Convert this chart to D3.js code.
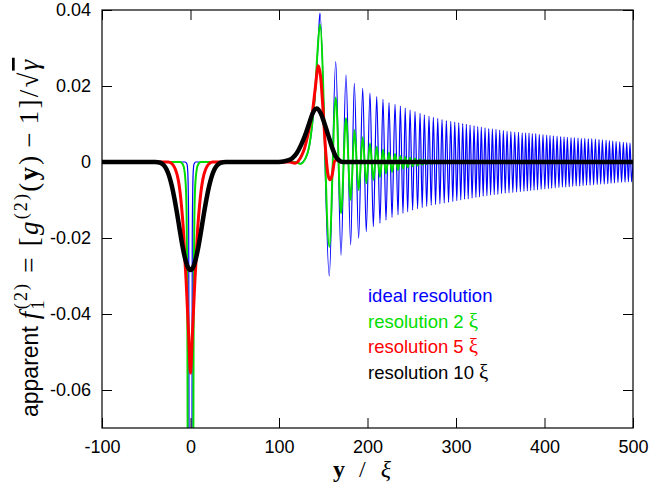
<!DOCTYPE html>
<html>
<head>
<meta charset="utf-8">
<script src="https://cdn.jsdelivr.net/npm/d3@7"></script>
<style>
  body { margin: 0; background: #fff; }
  svg { display: block; }
  .tick text { font-family: "Liberation Sans", Arial, sans-serif; font-size: 18px; fill: #000; }
  .tick line { stroke: #000; stroke-width: 1; }
  .legend { font-family: "Liberation Sans", Arial, sans-serif; font-size: 18.5px; }
</style>
</head>
<body>
<svg id="chart" width="650" height="494"></svg>
<script>
// axis ticks
var xTicks = [-100, 0, 100, 200, 300, 400, 500];
var yTicks = [-0.06, -0.04, -0.02, 0, 0.02, 0.04];

// ideal resolution: flat part and dip at 0, rise into main peak
var blueX = [-100, -6, -4, -3, -2.5, -2, -1.7, -1.2, 0, 1.2, 1.7, 2, 2.5, 3, 4, 6,
  120, 124, 128, 132, 135, 138, 141, 143, 145];
var blueY = [0, 0, -0.0005, -0.003, -0.008, -0.02, -0.07, -0.13, -0.2, -0.13, -0.07, -0.02, -0.008, -0.003, -0.0005, 0,
  0, -0.0004, 0.0003, 0.002, 0.005, 0.0105, 0.018, 0.026, 0.035];
// ideal resolution: fringe maxima and minima
var bluePeakX = [146.3, 164.1, 175.7, 185.1, 194.6, 202.8, 210.4, 217.5, 224.3, 231.1, 237.1, 242.6,
  248.1, 253.7, 259.4, 264.2, 269.5, 274.4, 279.4, 284.2, 289.1, 294.1, 298.6, 303.1, 307.6, 311.7,
  315.9, 320.4, 324.6, 328.6, 332.8, 337.0, 341.1, 345.2, 349.4, 353.5, 357.7, 362.0, 366.4, 370.6,
  374.8, 378.7, 382.5, 386.2, 390.1, 394.1, 398.3, 402.5, 406.2, 410.0, 414.2, 418.3, 422.1, 425.8,
  430.0, 433.7, 437.9, 441.6, 445.5, 449.5, 453.4, 457.5, 461.6, 465.4, 469.6, 473.3, 477.1, 480.9,
  485.0, 489.1, 492.9, 496.6];
var bluePeakY = [0.0392, 0.0264, 0.0229, 0.0207, 0.0194, 0.0181, 0.0172, 0.0165, 0.0156, 0.0152, 0.0147, 0.0142,
  0.0137, 0.0133, 0.0128, 0.0124, 0.0121, 0.0118, 0.0115, 0.0112, 0.0109, 0.0107, 0.0105, 0.0103, 0.0101, 0.0099,
  0.0097, 0.0095, 0.0093, 0.0092, 0.0090, 0.0088, 0.0087, 0.0086, 0.0084, 0.0083, 0.0081, 0.0080, 0.0079, 0.0078,
  0.0077, 0.0077, 0.0076, 0.0075, 0.0075, 0.0073, 0.0072, 0.0071, 0.0070, 0.0069, 0.0068, 0.0067, 0.0066, 0.0065,
  0.0064, 0.0064, 0.0063, 0.0062, 0.0062, 0.0061, 0.0061, 0.0060, 0.0059, 0.0058, 0.0057, 0.0056, 0.0055, 0.0054,
  0.0053, 0.0052, 0.0051, 0.0050];
var blueTroughX = [156.8, 170.1, 181.0, 190.0, 198.6, 206.6, 214.1, 220.9, 227.7, 234.5, 240.1, 245.4,
  251.0, 256.6, 261.8, 266.9, 272.0, 276.9, 281.8, 286.7, 291.6, 296.4, 300.9, 305.4, 309.7, 313.8,
  318.2, 322.5, 326.6, 330.7, 334.9, 339.1, 343.2, 347.3, 351.5, 355.6, 359.9, 364.2, 368.5, 372.7,
  376.8, 380.6, 384.4, 388.2, 392.1, 396.2, 400.4, 404.4, 408.1, 412.1, 416.3, 420.2, 424.0, 427.9,
  431.9, 435.8, 439.8, 443.6, 447.5, 451.5, 455.5, 459.6, 463.5, 467.5, 471.5, 475.2, 479.0, 483.0,
  487.1, 491.0, 494.8, 498.4, 500];
var blueTroughY = [-0.0300, -0.0245, -0.0218, -0.0201, -0.0183, -0.0170, -0.0161, -0.0153, -0.0146, -0.0139, -0.0135, -0.0131,
  -0.0127, -0.0123, -0.0120, -0.0117, -0.0114, -0.0112, -0.0110, -0.0108, -0.0106, -0.0104, -0.0102, -0.0100, -0.0098, -0.0097,
  -0.0095, -0.0093, -0.0092, -0.0090, -0.0089, -0.0087, -0.0086, -0.0085, -0.0083, -0.0082, -0.0081, -0.0080, -0.0079, -0.0078,
  -0.0077, -0.0076, -0.0075, -0.0074, -0.0073, -0.0072, -0.0071, -0.0070, -0.0069, -0.0068, -0.0067, -0.0066, -0.0066, -0.0065,
  -0.0064, -0.0063, -0.0063, -0.0062, -0.0061, -0.0061, -0.0060, -0.0059, -0.0058, -0.0058, -0.0057, -0.0056, -0.0055, -0.0054,
  -0.0053, -0.0053, -0.0052, -0.0052, 0];

// resolution 2 xi
var greenX = [-100, -12, -9, -7, -6, -5, -4.4, -3.9, -3.5, -3.2, -2, 0, 2, 3.2, 3.5, 3.9, 4.4, 5, 6, 7, 9, 12,
  118, 124, 130, 134, 137, 140.7, 143.5, 146.3,
  156.8, 164.1, 170.1, 175.7, 181.0, 185.3, 190.0, 194.6, 198.6, 202.8, 206.6, 210.4, 214.1, 217.5,
  220.9, 224.3, 227.7, 231.1, 234.5, 237.1, 240.1, 242.6, 245.4, 248.1, 251.0, 253.7, 256.6, 259.4,
  261.8, 264.2, 266.9, 269.5, 272.0, 274.4, 276.9, 280, 500];
var greenY = [0, 0, -0.0005, -0.002, -0.004, -0.008, -0.014, -0.026, -0.045, -0.075, -0.12, -0.15, -0.12, -0.075, -0.045, -0.026, -0.014, -0.008, -0.004, -0.002, -0.0005, 0,
  0, -0.0005, 0.001, 0.004, 0.009, 0.018, 0.029, 0.0362,
  -0.0223, 0.0170, -0.0135, 0.0115, -0.0100, 0.0084, -0.0074, 0.0065, -0.0056, 0.0049, -0.0047, 0.0040, -0.0039, 0.0033,
  -0.0030, 0.0025, -0.0026, 0.0021, -0.0021, 0.0016, -0.0017, 0.0013, -0.0014, 0.0011, -0.0011, 0.0009, -0.0009, 0.0007,
  -0.0007, 0.0005, -0.0005, 0.0004, -0.0004, 0.0003, -0.0003, 0, 0];

// resolution 5 xi
var redX = [-100, -25, -20, -17, -14, -12, -10, -8, -6, -5, -4, -3, -2, -1, 0, 1, 2, 3, 4, 5, 6, 8, 10, 12, 14, 17, 20, 25,
  112, 118, 124, 128, 132, 135, 138, 141, 144.4, 147, 150, 153, 155.5, 157.6, 160, 163, 166, 170, 500];
var redY = [0, 0, -0.0007, -0.002, -0.0045, -0.0075, -0.012, -0.018, -0.027, -0.031, -0.036, -0.041, -0.046, -0.052, -0.0555,
  -0.052, -0.046, -0.041, -0.036, -0.031, -0.027, -0.018, -0.012, -0.0075, -0.0045, -0.002, -0.0007, 0,
  0, -0.0003, 0.001, 0.003, 0.0065, 0.0098, 0.0135, 0.0195, 0.0253, 0.0225, 0.013, 0.002, -0.0035, -0.0047, -0.0035, 0.0003, 0.0006, 0, 0];

// resolution 10 xi
var blackX = [-100, -40, -34, -30, -27, -24, -21, -18, -15, -12, -9, -6, -3, 0, 3, 6, 9, 12, 15, 18, 21, 24, 27, 30, 34, 40,
  100, 110, 115, 120, 125, 129.5, 134, 138, 142.5, 147, 151, 155.7, 160, 164, 168, 172, 500];
var blackY = [0, 0, -0.0002, -0.0009, -0.002, -0.0038, -0.0064, -0.0098, -0.0138, -0.0181, -0.0222, -0.0255, -0.0277, -0.0284,
  -0.0277, -0.0255, -0.0222, -0.0181, -0.0138, -0.0098, -0.0064, -0.0038, -0.002, -0.0009, -0.0002, 0,
  0, 0.0004, 0.001, 0.0023, 0.0045, 0.007, 0.0101, 0.0128, 0.0141, 0.0129, 0.0104, 0.007, 0.0038, 0.0015, 0.0004, 0, 0];

var legendLabels = ["ideal resolution", "resolution 2 ", "resolution 5 ", "resolution 10 "];
var colors = ["#0000ff", "#00dd00", "#ff0000", "#000000"];
var widths = [1.2, 2, 3, 4.5];

(function() {
    var svg = d3.select('#chart');
    var plotL = 102, plotR = 633, plotT = 10, plotB = 428;

    var x = d3.scaleLinear().domain([-100, 500]).range([plotL, plotR]);
    var y = d3.scaleLinear().domain([-0.07, 0.04]).range([plotB, plotT]);

    var zip = function(xs, ys) {
        return xs.map(function(v, i) { return [v, ys[i]]; });
    };

    var bluePts = zip(blueX, blueY)
        .concat(zip(bluePeakX, bluePeakY))
        .concat(zip(blueTroughX, blueTroughY))
        .sort(function(a, b) { return a[0] - b[0]; });

    var series = [bluePts, zip(greenX, greenY), zip(redX, redY), zip(blackX, blackY)];

    svg.append('clipPath').attr('id', 'plot-clip')
      .append('rect')
        .attr('x', plotL).attr('y', plotT)
        .attr('width', plotR - plotL).attr('height', plotB - plotT);

    var line = d3.line()
        .x(function(d) { return x(d[0]); })
        .y(function(d) { return y(d[1]); })
        .curve(d3.curveMonotoneX);

    svg.append('g').attr('clip-path', 'url(#plot-clip)')
      .selectAll('path')
        .data(series)
      .enter().append('path')
        .attr('d', line)
        .attr('fill', 'none')
        .attr('stroke', function(d, i) { return colors[i]; })
        .attr('stroke-width', function(d, i) { return widths[i]; })
        .attr('stroke-linejoin', 'round');

    var fmtY = function(d) { return d === 0 ? '0' : d.toFixed(2); };
    var fmtX = function(d) { return String(d); };

    svg.append('g').attr('transform', 'translate(0,' + plotB + ')')
        .call(d3.axisBottom(x).tickValues(xTicks).tickSize(-10).tickPadding(12).tickFormat(fmtX));
    svg.append('g').attr('transform', 'translate(0,' + plotT + ')')
        .call(d3.axisTop(x).tickValues(xTicks).tickSize(-10).tickFormat(''));
    svg.append('g').attr('transform', 'translate(' + plotL + ',0)')
        .call(d3.axisLeft(y).tickValues(yTicks).tickSize(-10).tickPadding(11).tickFormat(fmtY));
    svg.append('g').attr('transform', 'translate(' + plotR + ',0)')
        .call(d3.axisRight(y).tickValues(yTicks).tickSize(-10).tickFormat(''));
    svg.selectAll('.domain').remove();

    svg.append('rect')
        .attr('x', plotL).attr('y', plotT)
        .attr('width', plotR - plotL).attr('height', plotB - plotT)
        .attr('fill', 'none').attr('stroke', '#000').attr('stroke-width', 1.2);

    // legend
    var legend = svg.append('g').attr('class', 'legend');
    legend.selectAll('text')
        .data(legendLabels)
      .enter().append('text')
        .attr('x', 368)
        .attr('y', function(d, i) { return 302 + i * 25.7; })
        .attr('fill', function(d, i) { return colors[i]; })
        .each(function(d, i) {
            var t = d3.select(this);
            t.append('tspan').text(d);
            if (i > 0) {
                t.append('tspan').attr('font-family', '"Liberation Serif", serif').attr('font-size', 21).text('ξ');
            }
        });

    // x axis title
    var xt = svg.append('text')
        .attr('x', 333).attr('y', 477)
        .attr('font-family', '"Liberation Serif", serif')
        .attr('font-size', 24);
    xt.append('tspan').attr('font-weight', 'bold').text('y');
    xt.append('tspan').attr('dx', 14).text('/');
    xt.append('tspan').attr('dx', 15).attr('font-style', 'italic').text('ξ');

    // y axis title
    var yt = svg.append('text')
        .attr('transform', 'translate(38,417) rotate(-90)')
        .attr('font-family', '"Liberation Serif", serif')
        .attr('font-size', 27);
    yt.append('tspan').attr('font-family', '"Liberation Sans", Arial, sans-serif').attr('font-size', 23).text('apparent');
    var m = yt.append('tspan').attr('letter-spacing', 2.2);
    m.append('tspan').attr('dx', 7).attr('font-style', 'italic').text('f');
    m.append('tspan').attr('font-size', 18).attr('dy', 6).text('1');
    m.append('tspan').attr('font-size', 18).attr('dx', -11).attr('dy', -17).text('(2)');
    m.append('tspan').attr('dx', 9).attr('dy', 11).text('=');
    m.append('tspan').attr('dx', 9).text('[');
    m.append('tspan').attr('font-style', 'italic').text('g');
    m.append('tspan').attr('font-size', 18).attr('dy', -11).text('(2)');
    m.append('tspan').attr('dy', 11).text('(');
    m.append('tspan').attr('font-weight', 'bold').text('y');
    m.append('tspan').text(')');
    m.append('tspan').attr('dx', 6).text('−');
    m.append('tspan').attr('dx', 6).text('1]/√');
    m.append('tspan').attr('font-style', 'italic').style('text-decoration', 'overline').text('γ');
})();
</script>
</body>
</html>
